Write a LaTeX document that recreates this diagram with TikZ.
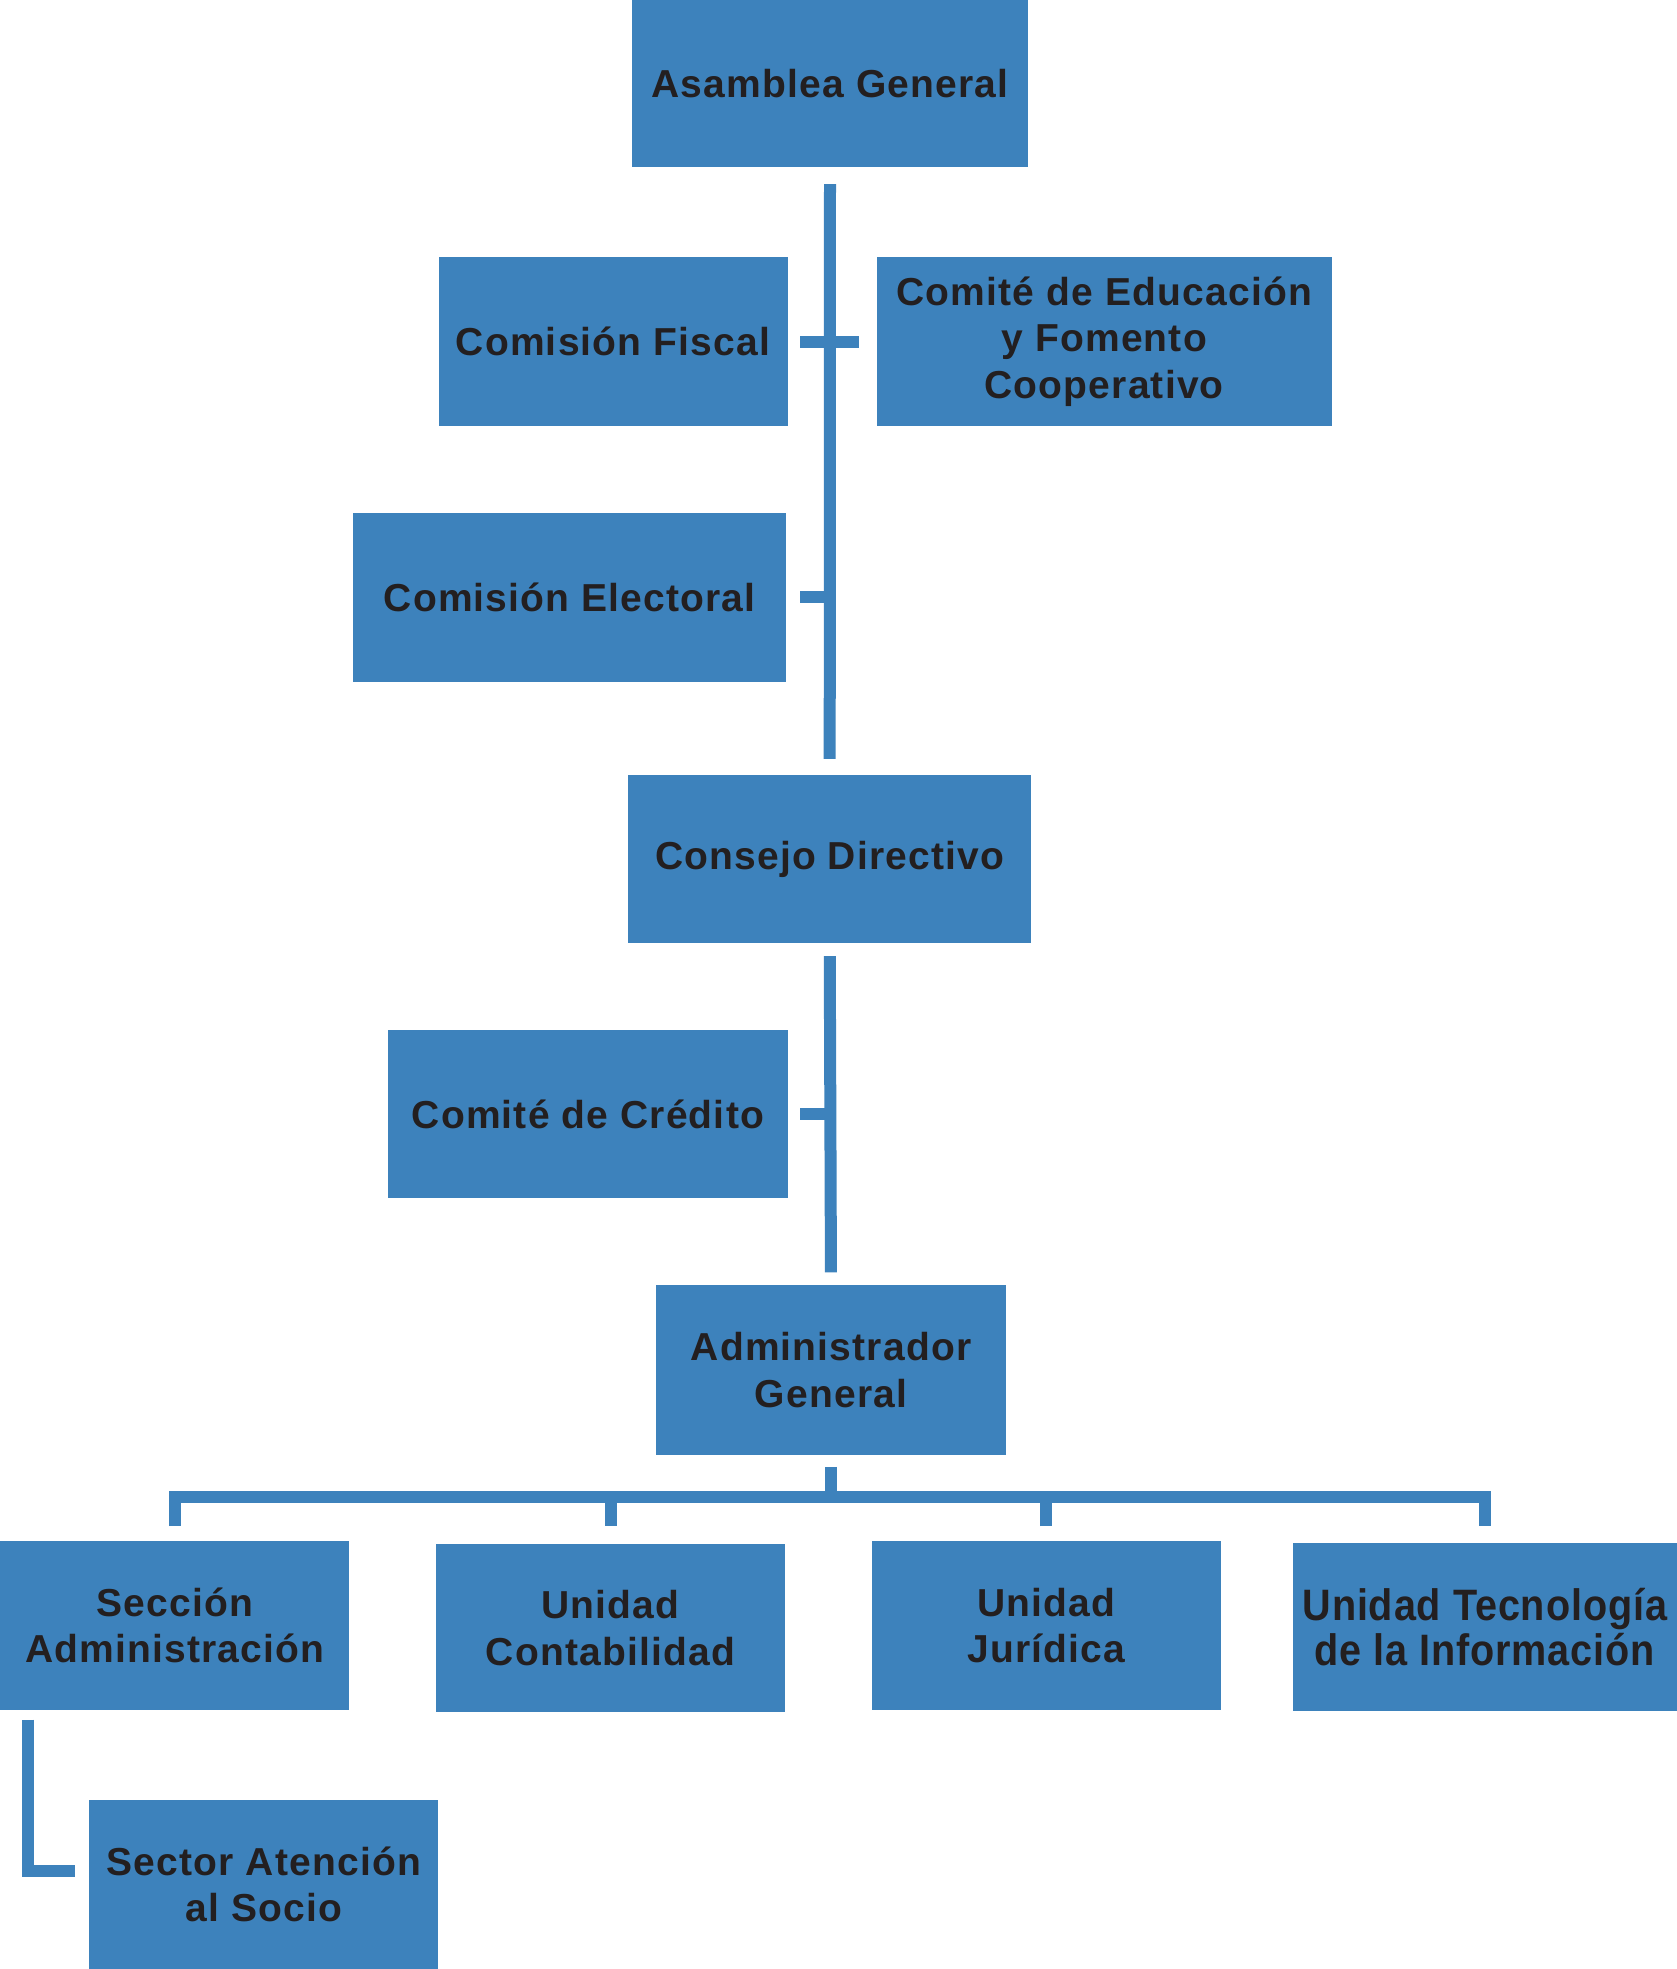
\documentclass[tikz,border=0pt]{standalone}
\usepackage{fontspec}
\newfontfamily\lab{Liberation Sans}[LetterSpace=3]
\newfontfamily\labn{Liberation Sans}[FakeStretch=0.9,LetterSpace=2]
\definecolor{boxblue}{RGB}{61,130,188}
\definecolor{txt}{RGB}{35,31,32}
\begin{document}
\begin{tikzpicture}[x=1pt,y=-1pt,
 box/.style={fill=boxblue, draw=none, inner sep=0pt, align=center, text=txt,
   font=\lab\bfseries\fontsize{39}{46.5}\selectfont},
 narrowbox/.style={box, font=\labn\bfseries\fontsize{44}{45}\selectfont},
 conn/.style={draw=boxblue, line width=12pt, line join=miter},
]
\useasboundingbox (0,0) rectangle (1677,1969);
\node[box, minimum width=396pt, minimum height=167pt] (asamblea) at (830,83.5) {Asamblea General};
\node[box, minimum width=349pt, minimum height=168.4pt] (fiscal) at (613,341.7) {Comisión Fiscal};
\node[box, minimum width=454.8pt, minimum height=168.4pt] (educ) at (1104.2,341.7) {Comité de Educación\\y Fomento\\Cooperativo};
\node[box, minimum width=433.4pt, minimum height=169.6pt] (electoral) at (569.7,597.3) {Comisión Electoral};
\node[box, minimum width=403.2pt, minimum height=168.3pt] (consejo) at (829.7,859.2) {Consejo Directivo};
\node[box, minimum width=399.4pt, minimum height=168.3pt] (credito) at (587.9,1114.3) {Comité de Crédito};
\node[box, minimum width=350.5pt, minimum height=169.6pt] (admin) at (831,1369.9) {Administrador\\General};
\node[box, minimum width=349.2pt, minimum height=168.3pt] (seccion) at (174.6,1625.5) {Sección\\Administración};
\node[box, minimum width=349.2pt, minimum height=168.3pt] (conta) at (610.5,1628) {Unidad\\Contabilidad};
\node[box, minimum width=349.2pt, minimum height=168.3pt] (juri) at (1046.4,1625.5) {Unidad\\Jurídica};
\node[narrowbox, minimum width=384.4pt, minimum height=168.3pt] (tecno) at (1484.8,1626.8) {Unidad Tecnología\\de la Información};
\node[box, minimum width=349.2pt, minimum height=169pt] (sector) at (263.8,1884.5) {Sector Atención\\al Socio};

\coordinate (bus) at (829,1496.5);
\coordinate (sa) at (27.5,1719.5);
\coordinate (sb) at (75,1871);

% main vertical Asamblea -> Consejo
\draw[conn, shorten <=17pt, shorten >=16pt] (asamblea.south) -- (consejo.north);
\draw[conn, shorten <=12.4pt, shorten >=18pt] (fiscal.east) -- (educ.west);
\draw[conn, shorten <=13.6pt] (electoral.east) -- (electoral.east -| asamblea.south);
% Consejo -> Administrador
\draw[conn, shorten <=12.6pt, shorten >=12.6pt] (consejo.south) -- (admin.north);
\draw[conn, shorten <=12.4pt] (credito.east) -- (credito.east -| consejo.south);
% bus
\draw[conn, shorten <=12pt] (admin.south) -- (admin.south |- bus);
\draw[conn] ([yshift=15pt]seccion.north) -- (seccion.north |- bus) -- (tecno.north |- bus) -- ([yshift=16pt]tecno.north);
\draw[conn] ([yshift=18pt]conta.north) -- (conta.north |- bus);
\draw[conn] ([yshift=15pt]juri.north) -- (juri.north |- bus);
% Sección -> Sector
\draw[conn] (sa) |- (sb);
\end{tikzpicture}
\end{document}
